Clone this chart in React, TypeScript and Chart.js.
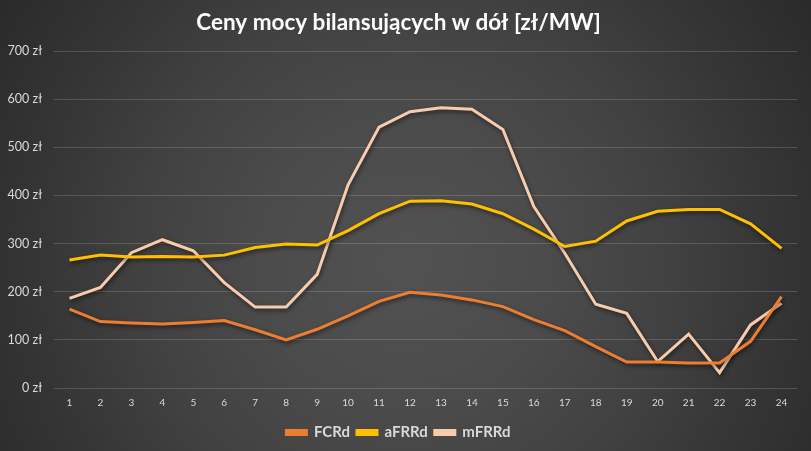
import React, { useEffect, useRef } from 'react';
import { Chart, registerables } from 'chart.js';

Chart.register(...registerables);

const hours: string[] = [
  '1', '2', '3', '4', '5', '6', '7', '8', '9', '10', '11', '12',
  '13', '14', '15', '16', '17', '18', '19', '20', '21', '22', '23', '24',
];

const fcrd: number[] = [164, 138, 135, 133, 136, 140, 121, 100, 122, 150, 180, 199, 193, 183, 169, 142, 119, 86, 54, 54, 52, 52, 97, 190];
const afrrd: number[] = [266, 276, 272, 273, 272, 276, 292, 299, 297, 327, 362, 388, 389, 382, 362, 330, 294, 305, 347, 367, 371, 371, 341, 290];
const mfrrd: number[] = [186, 209, 281, 308, 285, 219, 168, 168, 236, 422, 542, 574, 582, 579, 537, 377, 280, 174, 155, 55, 112, 32, 131, 176];

const yTicks: number[] = [0, 100, 200, 300, 400, 500, 600, 700];

const lineShadow = {
  id: 'lineShadow',
  beforeDatasetsDraw(chart: Chart) {
    const ctx = chart.ctx;
    ctx.save();
    ctx.shadowColor = 'rgba(0,0,0,0.55)';
    ctx.shadowBlur = 4;
    ctx.shadowOffsetX = 1;
    ctx.shadowOffsetY = 2;
  },
  afterDatasetsDraw(chart: Chart) {
    chart.ctx.restore();
  },
};

const App: React.FC = () => {
  const chartRef = useRef<HTMLCanvasElement>(null);

  useEffect(() => {
    document.body.style.margin = '0';
    if (!chartRef.current) return;

    const chartInstance = new Chart(chartRef.current, {
      type: 'line',
      data: {
        labels: hours,
        datasets: [
          { label: 'FCRd', data: fcrd, borderColor: '#ED7D31', backgroundColor: '#ED7D31' },
          { label: 'aFRRd', data: afrrd, borderColor: '#FFC000', backgroundColor: '#FFC000' },
          { label: 'mFRRd', data: mfrrd, borderColor: '#F8CBAD', backgroundColor: '#F8CBAD' },
        ],
      },
      options: {
        animation: false,
        responsive: false,
        devicePixelRatio: 1,
        layout: { padding: { left: 0, right: 14, top: 6, bottom: 1 } },
        elements: {
          line: { borderWidth: 3, tension: 0 },
          point: { radius: 0, hoverRadius: 0 },
        },
        plugins: {
          legend: {
            position: 'bottom',
            labels: {
              color: '#d9d9d9',
              font: { family: 'Lato', size: 15, weight: 'bold' },
              boxWidth: 20,
              boxHeight: 4,
              padding: 7,
            },
          },
          title: {
            display: true,
            text: 'Ceny mocy bilansujących w dół [zł/MW]',
            color: '#ffffff',
            font: { family: 'Lato', size: 22.5, weight: 'bold' },
            padding: { top: 3, bottom: 15 },
          },
          tooltip: { enabled: false },
        },
        scales: {
          x: {
            offset: true,
            grid: { display: false, drawTicks: false },
            border: { display: false },
            ticks: {
              color: '#d9d9d9',
              font: { family: 'Lato', size: 10 },
              maxRotation: 0,
              autoSkip: false,
              padding: 9,
            },
          },
          y: {
            min: 0,
            max: 700,
            afterFit: (scale: any) => {
              scale.width = 54;
            },
            afterBuildTicks: (scale: any) => {
              scale.ticks = yTicks.map((v) => ({ value: v }));
            },
            grid: { color: 'rgba(255,255,255,0.16)', drawTicks: false, lineWidth: 1 },
            border: { display: false },
            ticks: {
              color: '#d9d9d9',
              font: { family: 'Lato', size: 12.5 },
              padding: 12,
              callback: (v: any) => `${v} zł`,
            },
          },
        },
      },
      plugins: [lineShadow],
    });

    return () => {
      chartInstance.destroy();
    };
  }, []);

  return (
    <div
      style={{
        position: 'fixed',
        left: 0,
        top: 0,
        width: 811,
        height: 451,
        background:
          'radial-gradient(circle at 50% 58%, #525252 0%, #4b4b4b 30%, #414141 55%, #363636 75%, #2a2a2a 100%)',
      }}
    >
      <canvas ref={chartRef} width={811} height={451} />
    </div>
  );
};

export default App;
